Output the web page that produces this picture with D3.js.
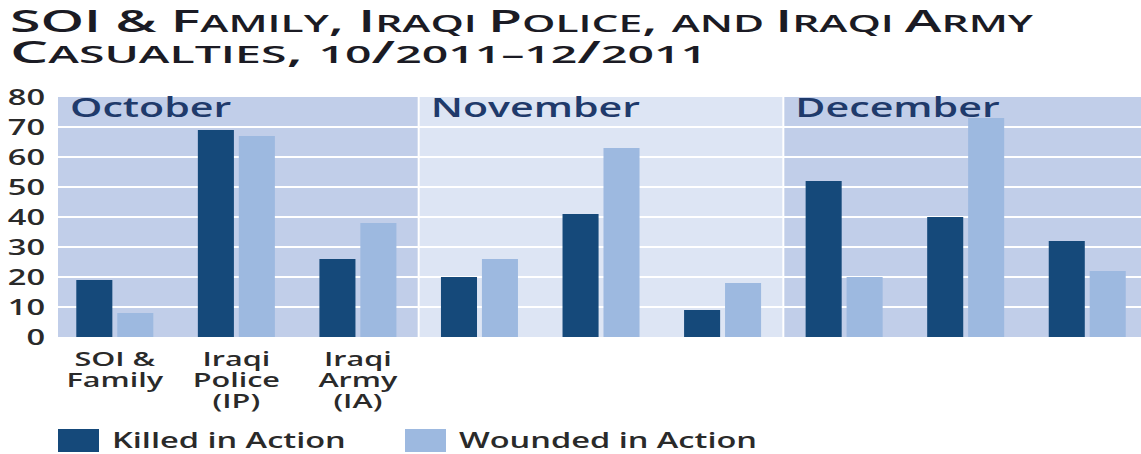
<!DOCTYPE html>
<html>
<head>
<meta charset="utf-8">
<script src="https://cdn.jsdelivr.net/npm/d3@7"></script>
<style>
  body { margin: 0; background: #fff; }
  text { font-family: "Open Sans", sans-serif; }
</style>
</head>
<body>
<svg id="chart" width="1141" height="454"></svg>
<script>
// data
const months = ["October", "November", "December"];
const categories = [["SOI &", "Family"], ["Iraqi", "Police", "(IP)"], ["Iraqi", "Army", "(IA)"]];
const series = ["Killed in Action", "Wounded in Action"];
// month by month, SOI / IP / IA
const killed = [19, 69, 26, 20, 41, 9, 52, 40, 32];
const wounded = [8, 67, 38, 26, 63, 18, 20, 73, 22];
const yTicks = [0, 10, 20, 30, 40, 50, 60, 70, 80];
const titleLines = ["SOI & Family, Iraqi Police, and Iraqi Army", "Casualties, 10/2011\u201312/2011"];

const SX = 1.48; // the source picture is stretched sideways
const colors = { killed: "#15497a", wounded: "#9db9e0" };
const panelFill = ["#c1cee9", "#dde5f4", "#c1cee9"];

const svg = d3.select("#chart");
const plot = { left: 58, right: 1141 };

const y = d3.scaleLinear().domain([0, 80]).range([337, 97]);
const groups = d3.range(months.length * categories.length);
const x = d3.scaleBand().domain(groups).range([54, 1148]).padding(0);
const inner = d3.scaleBand().domain([0, 1]).range([22.3, 99.3]).paddingInner(0.12);

// month panels
const panels = svg.append("g");
months.forEach((m, i) => {
  const x0 = Math.max(plot.left, x(i * 3));
  const x1 = Math.min(plot.right, x(i * 3 + 2) + x.bandwidth());
  panels.append("rect")
    .attr("x", x0).attr("y", y(80))
    .attr("width", x1 - x0).attr("height", y(0) - y(80))
    .attr("fill", panelFill[i]);
});

// grid lines
svg.append("g").selectAll("line")
  .data(yTicks.filter(d => d > 0 && d < 80))
  .join("line")
  .attr("x1", plot.left).attr("x2", plot.right)
  .attr("y1", d => y(d)).attr("y2", d => y(d))
  .attr("stroke", "#fff").attr("stroke-width", 2);

// panel separators
svg.append("g").selectAll("line")
  .data([3, 6])
  .join("line")
  .attr("x1", d => x(d)).attr("x2", d => x(d))
  .attr("y1", y(80)).attr("y2", y(0))
  .attr("stroke", "#fff").attr("stroke-width", 2);

// month labels
svg.append("g").selectAll("text")
  .data(months)
  .join("text")
  .attr("transform", (d, i) => `translate(${Math.max(plot.left, x(i * 3)) + 12},117) scale(${SX * 1.03},1)`)
  .attr("font-size", 27).attr("font-weight", 600)
  .attr("fill", "#1f3a6b")
  .text(d => d);

// bars
const bars = svg.append("g");
groups.forEach(g => {
  [killed[g], wounded[g]].forEach((v, s) => {
    bars.append("rect")
      .attr("x", x(g) + inner(s))
      .attr("y", y(v))
      .attr("width", inner.bandwidth())
      .attr("height", y(0) - y(v))
      .attr("fill", s === 0 ? colors.killed : colors.wounded);
  });
});

// y axis labels
svg.append("g").selectAll("text")
  .data(yTicks)
  .join("text")
  .attr("transform", d => `translate(45,${y(d)}) scale(${SX},1)`)
  .attr("text-anchor", "end").attr("dy", "0.36em")
  .attr("font-size", 22).attr("font-weight", 600)
  .attr("fill", "#2a2a2a")
  .text(d => d);

// category labels under October
const cat = svg.append("g");
categories.forEach((lines, i) => {
  const cx = x(i) + x.bandwidth() / 2;
  lines.forEach((t, j) => {
    cat.append("text")
      .attr("transform", `translate(${cx},${366 + j * 21}) scale(${SX * 1.06},1)`)
      .attr("text-anchor", "middle")
      .attr("font-size", 19.5).attr("font-weight", 600)
      .attr("fill", "#2a2a2a")
      .text(t);
  });
});

// legend
const legendX = [58, 405];
series.forEach((s, i) => {
  svg.append("rect")
    .attr("x", legendX[i]).attr("y", 429)
    .attr("width", 41).attr("height", 23)
    .attr("fill", i === 0 ? colors.killed : colors.wounded);
  svg.append("text")
    .attr("transform", `translate(${legendX[i] + 54},448) scale(${SX},1)`)
    .attr("font-size", 22).attr("font-weight", 600)
    .attr("fill", "#2a2a2a")
    .text(s);
});

// title in small caps
const titleWidths = [1023, 697];
titleLines.forEach((line, li) => {
  const t = svg.append("text")
    .attr("x", 10).attr("y", 32 + li * 31)
    .attr("font-weight", 600).attr("fill", "#1b1b24")
    .attr("textLength", titleWidths[li])
    .attr("lengthAdjust", "spacingAndGlyphs");
  // split into runs of full caps vs small caps
  const runs = [];
  for (const ch of line) {
    const space = /\s/.test(ch);
    const big = space ? (runs.length ? runs[runs.length - 1].big : true) : /[A-Z&\/,]/.test(ch);
    if (runs.length && runs[runs.length - 1].big === big) runs[runs.length - 1].s += ch;
    else runs.push({ big: big, s: ch });
  }
  t.selectAll("tspan")
    .data(runs)
    .join("tspan")
    .attr("font-size", d => d.big ? 30 : 23)
    .text(d => d.s.toUpperCase());
});
</script>
</body>
</html>
